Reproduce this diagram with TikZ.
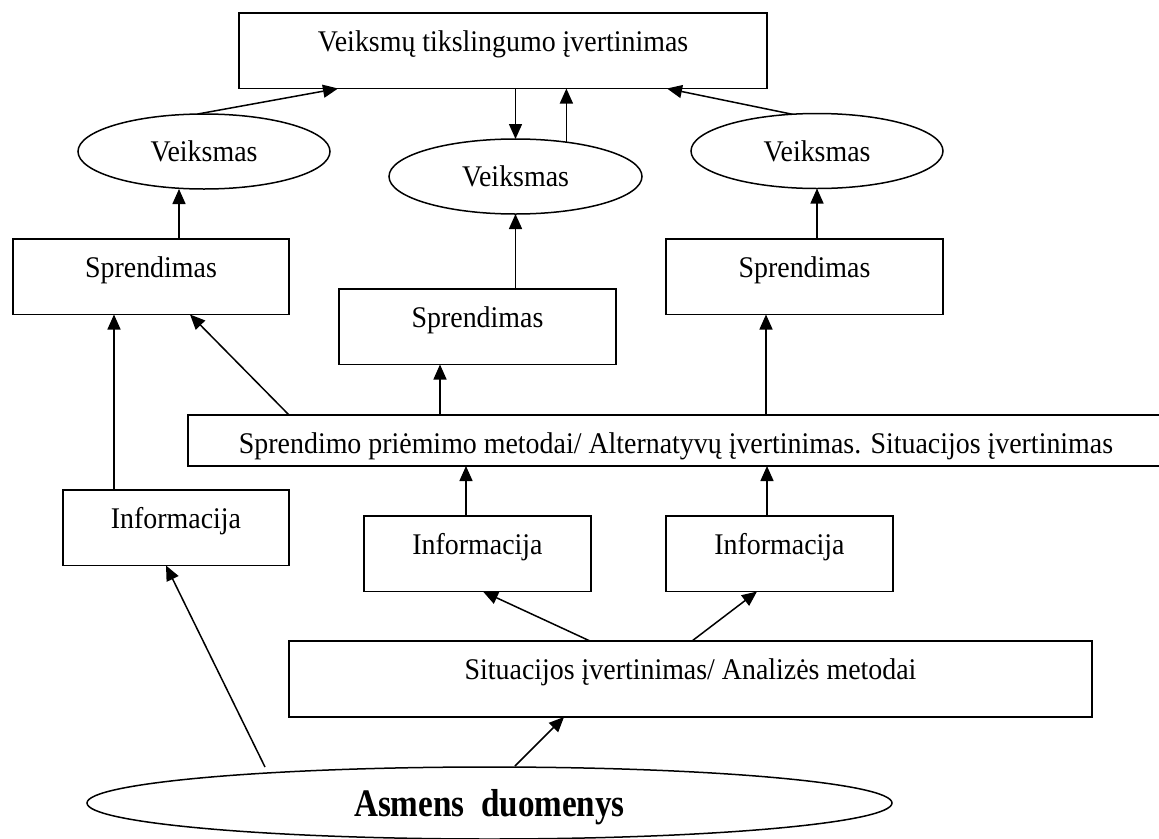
\documentclass[tikz,border=0pt]{standalone}
\usepackage{fontspec}
\setmainfont{Liberation Serif}[FakeStretch=0.93]
\newfontfamily\headfont{Liberation Serif}[FakeStretch=0.85]
\usetikzlibrary{shapes.geometric,arrows.meta,calc}
\begin{document}
\begin{tikzpicture}[x=1pt,y=-1pt,
  every node/.style={font=\fontsize{30}{36}\selectfont},
  box/.style={draw, rectangle, line width=1.5pt, inner sep=0pt, outer sep=0pt,
    anchor=north west, text height=38pt, text depth=37.5pt},
  oval/.style={draw, ellipse, line width=1.5pt, inner sep=0pt, outer sep=0pt,
    minimum width=252pt, minimum height=75pt},
  link/.style={line width=1.5pt},
  arr/.style={link, -{Triangle[length=15pt,width=13pt]}}]
\useasboundingbox (0,0) rectangle (1159,838);

% boxes and ellipses
\node[box, minimum width=528pt] (top) at (239,13) {Veiksmų tikslingumo įvertinimas};
\node[oval] (ellL) at (204,151.5) {Veiksmas};
\node[oval, minimum width=253pt] (ellM) at (515.5,176.5) {Veiksmas};
\node[oval] (ellR) at (817,151) {Veiksmas};
\node[box, minimum width=276pt] (sprL) at (13,239) {Sprendimas};
\node[box, minimum width=277pt] (sprM) at (339,289) {Sprendimas};
\node[box, minimum width=277pt] (sprR) at (666,239) {Sprendimas};
\node[box, minimum width=976pt, text depth=13pt] (wide) at (188,415)
  {Sprendimo priėmimo metodai/ Alternatyvų įvertinimas. Situacijos įvertinimas};
\node[box, minimum width=226pt] (infoL) at (63,490) {Informacija};
\node[box, minimum width=227pt] (infoM) at (364,516) {Informacija};
\node[box, minimum width=227pt] (infoR) at (666,516) {Informacija};
\node[box, minimum width=803pt, text depth=38pt] (sit) at (289,641)
  {Situacijos įvertinimas/ Analizės metodai};
\node[oval, minimum width=805pt, minimum height=72pt, text depth=0pt,
  font=\headfont\bfseries\fontsize{39}{44}\selectfont] (asm) at (489.5,803)
  {Asmens~~duomenys};

% connectors into the top box
\draw[arr] (ellL.100) -- ($(top.south west)+(99,0)$);
\draw[arr] (top.south -| ellM.north) -- (ellM.north);
\draw[arr] (ellM.34) -- (ellM.34 |- top.south);
\draw[arr] (ellR.124) -- ($(top.south east)+(-100,0)$);

% decisions to actions
\coordinate (a1) at ($(sprL.north west)+(166,0)$);
\draw[arr] (a1) -- (a1 |- ellL.south);
\draw[arr] (ellM.south |- sprM.north) -- (ellM.south);
\draw[arr] (ellR.south |- sprR.north) -- (ellR.south);

% decision methods to decisions
\coordinate (w1) at ($(wide.north west)+(252,0)$);
\draw[arr] (w1) -- (w1 |- sprM.south);
\coordinate (w2) at ($(wide.north west)+(578,0)$);
\draw[arr] (w2) -- (w2 |- sprR.south);
\draw[arr] ($(wide.north west)+(101,0)$) -- ($(sprL.south east)+(-99,0)$);

% information flows
\coordinate (i1) at ($(infoL.north west)+(51,0)$);
\draw[arr] (i1) -- (i1 |- sprL.south);
\coordinate (i2) at ($(infoM.north west)+(102,0)$);
\draw[arr] (i2) -- (i2 |- wide.south);
\coordinate (i3) at ($(infoR.north west)+(101,0)$);
\draw[arr] (i3) -- (i3 |- wide.south);
\draw[arr] ($(sit.north west)+(301,0)$) -- ($(infoM.south west)+(119,0)$);
\draw[arr] ($(sit.north west)+(403,0)$) -- ($(infoR.south west)+(91,0)$);

% personal data
\draw[arr] ($(asm.center)+(-224.5,-36)$) -- ($(infoL.south west)+(103,0)$);
\draw[arr] ($(asm.center)+(25.5,-37)$) -- ($(sit.south west)+(275,0)$);
\end{tikzpicture}
\end{document}
